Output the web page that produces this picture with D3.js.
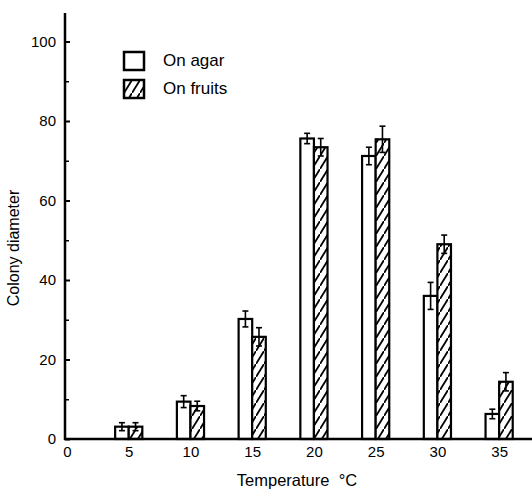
<!DOCTYPE html>
<html>
<head>
    <script src="https://d3js.org/d3.v7.min.js"></script>
    <style>
      body { margin: 0; background: #fff; }
      text { font-family: "Liberation Sans", Arial, sans-serif; fill: #000; }
    </style>
</head>
<body>

<script>
  var width = 532;
  var height = 489;

  // data
  var temps = [5, 10, 15, 20, 25, 30, 35];
  var agar = [3.1, 9.4, 30.2, 75.6, 71.2, 36.0, 6.3];
  var agarErr = [1.0, 1.5, 2.0, 1.3, 2.2, 3.4, 1.2];
  var fruits = [3.1, 8.3, 25.7, 73.4, 75.4, 49.0, 14.4];
  var fruitsErr = [1.0, 1.2, 2.3, 2.2, 3.3, 2.3, 2.3];
  var xTicks = [0, 5, 10, 15, 20, 25, 30, 35];
  var yMajor = [0, 20, 40, 60, 80, 100];
  var yMinor = [10, 30, 50, 70, 90];

  var svg = d3.select("body").append("svg")
    .attr("width", width)
    .attr("height", height);

  var x = d3.scaleLinear().domain([0, 37.5]).range([67, 530]);
  var y = d3.scaleLinear().domain([0, 100]).range([439, 41.5]);
  var bw = x(1.1) - x(0);

  // hatch
  var defs = svg.append("defs");
  var pat = defs.append("pattern")
    .attr("id", "hatch")
    .attr("patternUnits", "userSpaceOnUse")
    .attr("width", 8)
    .attr("height", 13);
  pat.append("rect").attr("width", 8).attr("height", 13).attr("fill", "#fff");
  pat.append("path")
    .attr("d", "M-2,16.25 L10,-3.25")
    .attr("stroke", "#000")
    .attr("stroke-width", 1.8);

  var rows = temps.map(function(t, i) {
    return {t: t, agar: agar[i], ae: agarErr[i], fruits: fruits[i], fe: fruitsErr[i]};
  });

  var g = svg.append("g");

  // agar bars (left of tick)
  g.selectAll(".agar").data(rows).enter()
    .append("rect")
    .attr("class", "agar")
    .attr("x", function(d) { return x(d.t) - bw; })
    .attr("y", function(d) { return y(d.agar); })
    .attr("width", bw)
    .attr("height", function(d) { return y(0) - y(d.agar); })
    .style("fill", "#fff")
    .style("stroke", "#000")
    .style("stroke-width", 2.2);

  // fruit bars (right of tick)
  g.selectAll(".fruit").data(rows).enter()
    .append("rect")
    .attr("class", "fruit")
    .attr("x", function(d) { return x(d.t); })
    .attr("y", function(d) { return y(d.fruits); })
    .attr("width", bw)
    .attr("height", function(d) { return y(0) - y(d.fruits); })
    .style("fill", "url(#hatch)")
    .style("stroke", "#000")
    .style("stroke-width", 2.2);

  // error bars
  var errs = [];
  rows.forEach(function(d) {
    errs.push({cx: x(d.t) - bw / 2, v: d.agar, e: d.ae});
    errs.push({cx: x(d.t) + bw / 2, v: d.fruits, e: d.fe});
  });

  var eb = g.selectAll(".err").data(errs).enter().append("g").attr("class", "err")
    .style("stroke", "#000").style("stroke-width", 1.6);
  eb.append("line")
    .attr("x1", function(d) { return d.cx; })
    .attr("x2", function(d) { return d.cx; })
    .attr("y1", function(d) { return y(d.v - d.e); })
    .attr("y2", function(d) { return y(d.v + d.e); });
  eb.append("line")
    .attr("x1", function(d) { return d.cx - 3; })
    .attr("x2", function(d) { return d.cx + 3; })
    .attr("y1", function(d) { return y(d.v + d.e); })
    .attr("y2", function(d) { return y(d.v + d.e); });
  eb.append("line")
    .attr("x1", function(d) { return d.cx - 3; })
    .attr("x2", function(d) { return d.cx + 3; })
    .attr("y1", function(d) { return y(d.v - d.e); })
    .attr("y2", function(d) { return y(d.v - d.e); });

  // y axis
  var yAxis = svg.append("g")
    .attr("transform", "translate(65,0)")
    .call(d3.axisLeft(y).tickValues(yMajor).tickSize(-5).tickPadding(9));
  yAxis.select(".domain").remove();
  yAxis.selectAll("line").style("stroke", "#000").style("stroke-width", 2);
  yAxis.selectAll("text").style("font-size", "15px").attr("fill", "#000");

  var yMin = svg.append("g")
    .attr("transform", "translate(65,0)")
    .call(d3.axisLeft(y).tickValues(yMinor).tickSize(-4).tickFormat(""));
  yMin.select(".domain").remove();
  yMin.selectAll("line").style("stroke", "#000").style("stroke-width", 1.5);

  svg.append("line")
    .attr("x1", 65).attr("x2", 65)
    .attr("y1", 13).attr("y2", y(0) + 1)
    .style("stroke", "#000").style("stroke-width", 2.5);

  // x axis
  var xAxis = svg.append("g")
    .attr("transform", "translate(0," + y(0) + ")")
    .call(d3.axisBottom(x).tickValues(xTicks).tickSize(0).tickPadding(7));
  xAxis.select(".domain").remove();
  xAxis.selectAll("text").style("font-size", "15px").attr("fill", "#000");

  svg.append("line")
    .attr("x1", 64).attr("x2", width)
    .attr("y1", y(0)).attr("y2", y(0))
    .style("stroke", "#000").style("stroke-width", 2.5);

  // titles
  svg.append("text")
    .attr("x", 297).attr("y", 486)
    .attr("text-anchor", "middle")
    .style("font-size", "16.5px")
    .style("white-space", "pre")
    .text("Temperature  \u00b0C");

  svg.append("text")
    .attr("transform", "translate(19,248) rotate(-90)")
    .attr("text-anchor", "middle")
    .style("font-size", "16px")
    .text("Colony diameter");

  // legend
  var legend = [
    {label: "On agar", fill: "#fff"},
    {label: "On fruits", fill: "url(#hatch)"}
  ];
  var lg = svg.selectAll(".legend").data(legend).enter()
    .append("g").attr("class", "legend")
    .attr("transform", function(d, i) { return "translate(124," + (52 + i * 28) + ")"; });
  lg.append("rect")
    .attr("width", 20).attr("height", 18)
    .style("fill", function(d) { return d.fill; })
    .style("stroke", "#000").style("stroke-width", 2.5);
  lg.append("text")
    .attr("x", 39).attr("y", 14)
    .style("font-size", "17px")
    .text(function(d) { return d.label; });
</script>

</body>
</html>
